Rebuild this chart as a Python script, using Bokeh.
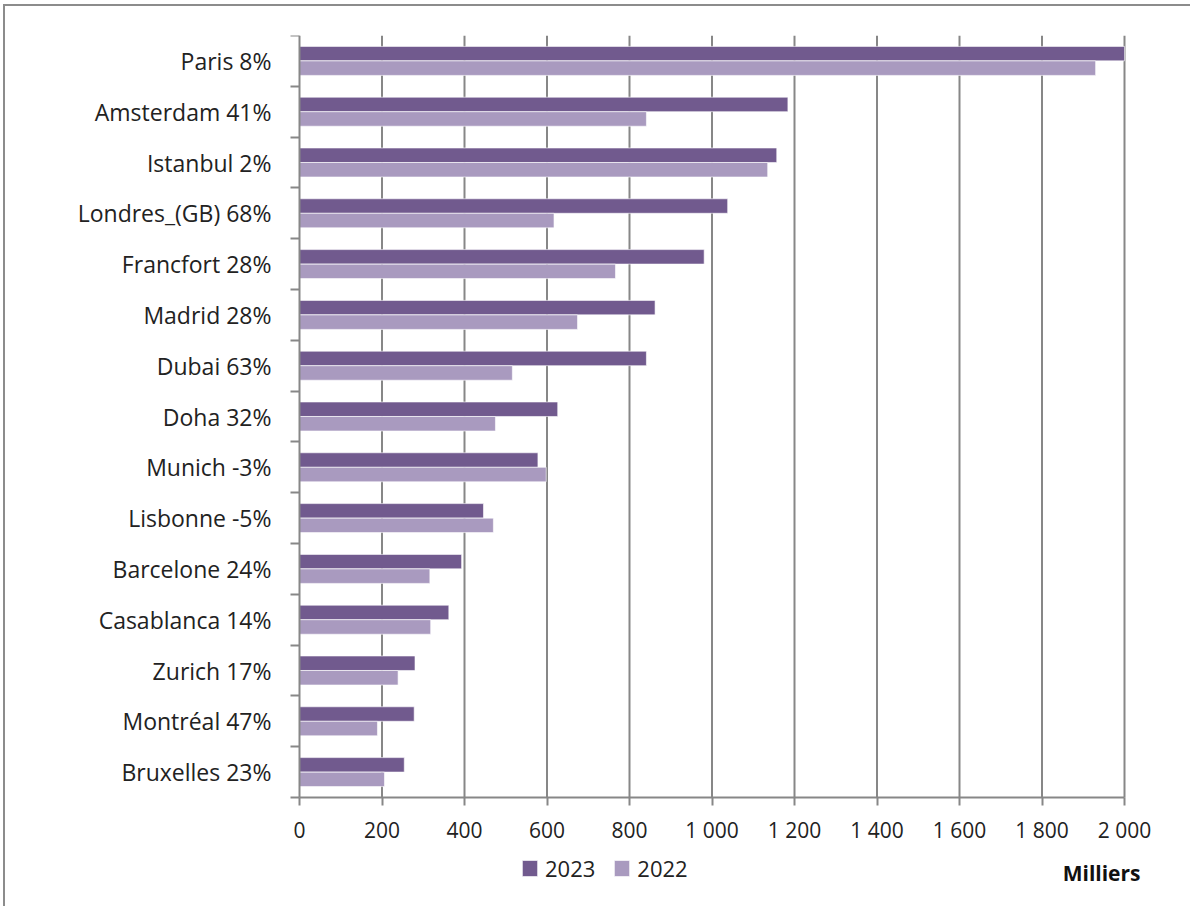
import numpy as np
from bokeh.plotting import figure
from bokeh.models import (ColumnDataSource, Range1d, FixedTicker, Legend, LegendItem, Label)
from bokeh.embed import file_html
from bokeh.resources import INLINE

cities = ["Paris 8%", "Amsterdam 41%", "Istanbul 2%", "Londres_(GB) 68%", "Francfort 28%",
          "Madrid 28%", "Dubai 63%", "Doha 32%", "Munich -3%", "Lisbonne -5%",
          "Barcelone 24%", "Casablanca 14%", "Zurich 17%", "Montréal 47%", "Bruxelles 23%"]
v2023 = [2084, 1184, 1157, 1038, 981, 862, 841, 626, 578, 446, 393, 362, 280, 278, 254]
v2022 = [1930, 841, 1135, 617, 766, 674, 516, 475, 598, 470, 316, 318, 239, 189, 206]
x_ticks = [0, 200, 400, 600, 800, 1000, 1200, 1400, 1600, 1800, 2000]

DARK = "#715A8E"
LIGHT = "#A99ABF"
GRID = "#878787"
FONT = "Open Sans"
TXT = "#222222"

n = len(cities)
x_max = x_ticks[-1]
centers = [n - i - 0.5 for i in range(n)]
off = 0.143
src = ColumnDataSource(dict(
    city=cities, c=centers,
    y23=[c + off for c in centers], y22=[c - off for c in centers],
    v23=np.minimum(v2023, x_max), v22=np.minimum(v2022, x_max)))

# layout geometry (pixels in the page)
FL, FR, FT, FB = 299, 1124, 35, 797      # plot area of the axes
W, H = 1192, 908
X0, Y0 = 5, 6                            # figure origin in the page (after frame border)
px_x = (FR - FL) / x_max
px_y = (FB - FT) / n
x_start = -(FL - X0) / px_x
x_end = (W - FL) / px_x
y_start = n - (H - FT) / px_y

p = figure(width=W - X0, height=H - Y0, output_backend="svg", toolbar_location=None,
           x_range=Range1d(x_start, x_end), y_range=Range1d(y_start, n),
           min_border_left=0, min_border_right=0, min_border_top=FT - Y0, min_border_bottom=0)
p.styles = {"margin-left": "3px", "margin-top": "4px",
            "border-left": "2px solid #8c8c8c", "border-top": "2px solid #8c8c8c"}
p.outline_line_color = None
p.background_fill_color = "white"
p.border_fill_color = "white"
p.grid.visible = False

# vertical grid lines at the tick values
p.segment(x0=x_ticks[1:], x1=x_ticks[1:], y0=0, y1=n, line_color=GRID, line_width=2)

r23 = p.hbar(y="y23", right="v23", left=0, height=0.285, source=src,
             fill_color=DARK, line_color="white", line_width=0.6)
r22 = p.hbar(y="y22", right="v22", left=0, height=0.285, source=src,
             fill_color=LIGHT, line_color="white", line_width=0.6)

# x axis, fixed at y = 0
xa = p.xaxis[0]
xa.fixed_location = 0
xa.bounds = (0, x_max)
xa.ticker = FixedTicker(ticks=x_ticks)
xa.major_label_overrides = {t: f"{t:,}".replace(",", " ") for t in x_ticks}
xa.axis_line_color = GRID
xa.axis_line_width = 2
xa.major_tick_line_color = GRID
xa.major_tick_line_width = 2
xa.major_tick_out = 8
xa.major_tick_in = 0
xa.minor_tick_line_color = None
xa.major_label_text_font = FONT
xa.major_label_text_font_size = "21px"
xa.major_label_text_color = TXT
xa.major_label_standoff = 10

# y axis, fixed at x = 0
ya = p.yaxis[0]
ya.fixed_location = 0
ya.bounds = (0, n)
boundaries = [float(b) for b in range(n + 1)]
ya.ticker = FixedTicker(ticks=centers, minor_ticks=boundaries)
ya.major_label_overrides = {c: name for c, name in zip(centers, cities)}
ya.axis_line_color = GRID
ya.axis_line_width = 2
ya.major_tick_line_color = None
ya.major_tick_out = 0
ya.major_tick_in = 0
ya.minor_tick_line_color = GRID
ya.minor_tick_line_width = 2
ya.minor_tick_out = 9
ya.minor_tick_in = 0
ya.major_label_text_font = FONT
ya.major_label_text_font_size = "23px"
ya.major_label_text_color = TXT
ya.major_label_standoff = 19

legend = Legend(items=[LegendItem(label="2023", renderers=[r23]),
                       LegendItem(label="2022", renderers=[r22])],
                location=(520 - X0, H - 873 - 10), orientation="horizontal",
                padding=0, margin=0, spacing=17, glyph_width=19, glyph_height=20,
                label_standoff=6, label_height=20,
                border_line_color=None, background_fill_alpha=0,
                label_text_font=FONT, label_text_font_size="22px",
                label_text_color=TXT)
p.add_layout(legend, "center")

p.add_layout(Label(x=(1140 - FL) / px_x, y=-(872 - FB) / px_y, text="Milliers",
                   text_align="right", text_baseline="middle", text_font=FONT,
                   text_font_size="21px", text_font_style="bold", text_color="#111111"))

open("out.html", "w").write(file_html(p, INLINE))
